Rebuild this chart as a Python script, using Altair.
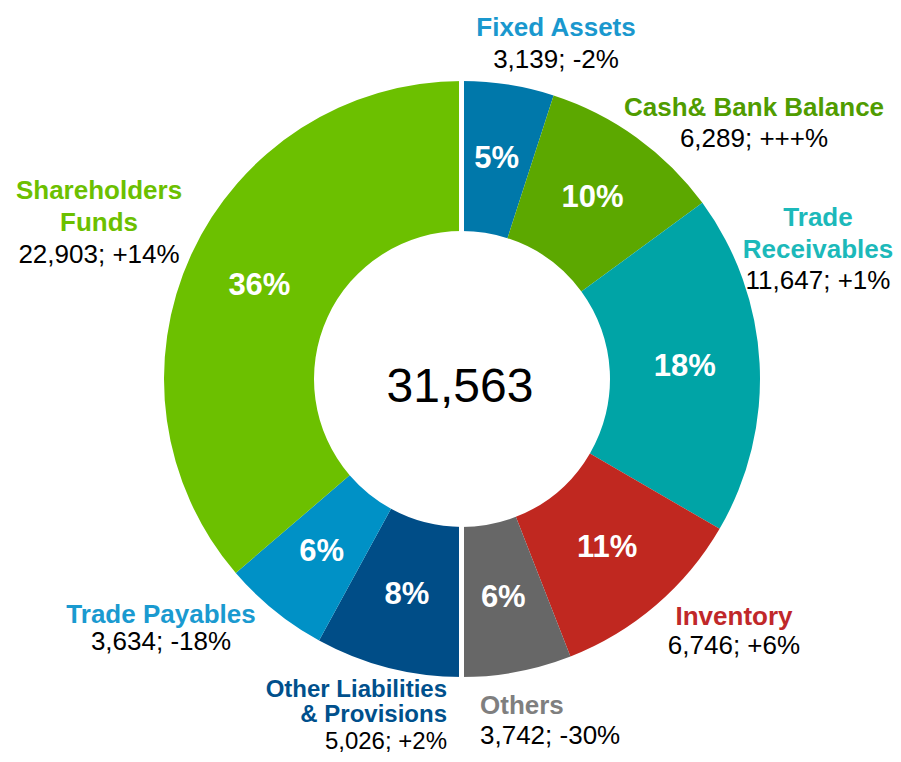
import altair as alt
import pandas as pd

# ---------------- data ----------------
categories = ["Fixed Assets", "Cash& Bank Balance", "Trade Receivables", "Inventory", "Others",
              "Other Liabilities & Provisions", "Trade Payables", "Shareholders Funds"]
name_lines = [["Fixed Assets"], ["Cash& Bank Balance"], ["Trade", "Receivables"], ["Inventory"],
              ["Others"], ["Other Liabilities", "& Provisions"], ["Trade Payables"],
              ["Shareholders", "Funds"]]
values = [3139, 6289, 11647, 6746, 3742, 5026, 3634, 22903]
changes = ["-2%", "+++%", "+1%", "+6%", "-30%", "+2%", "-18%", "+14%"]

# ---------------- style / layout ----------------
FONT = "Liberation Sans, Arial, sans-serif"
slice_colors = ["#0078AA", "#5CA800", "#00A4A6", "#C02820", "#676767", "#004D87", "#0091C6", "#6CC000"]
label_colors = ["#1A98CE", "#509C00", "#1CB9BA", "#C0282A", "#7F7F7F", "#00508C", "#1A9AD0", "#6CC000"]
OFF = 8  # page margin
CX, CY = 462 - OFF, 379 - OFF
R_IN, R_OUT = 148, 298
# label anchor x (page px), baselines of each line (page px), alignment
label_layout = [
    (556, [36, 68], "center"),
    (754, [116, 147], "center"),
    (818, [226, 258, 289], "center"),
    (734, [625, 654], "center"),
    (480, [714, 744], "left"),
    (447, [697, 722, 749], "right"),
    (161, [623, 650], "center"),
    (99, [199, 231, 263], "center"),
]
font_size_by_align = {"center": 26, "left": 26, "right": 24}

total = sum(values)
df = pd.DataFrame({
    "idx": list(range(len(categories))),
    "category": categories,
    "value": values,
    "slice_color": slice_colors,
    "pct": [f"{round(v / total * 100)}%" for v in values],
})

rows = []
for i, (lines, val, ch) in enumerate(zip(name_lines, values, changes)):
    x, baselines, al = label_layout[i]
    texts = lines + [f"{val:,}; {ch}"]
    for j, t in enumerate(texts):
        is_name = j < len(lines)
        rows.append({
            "label": t,
            "px": x - OFF,
            "py": baselines[j] - OFF,
            "tcolor": label_colors[i] if is_name else "#000000",
            "kind": "name" if is_name else "value",
            "anchor": al,
        })
labels = pd.DataFrame(rows)

base = alt.Chart(df).encode(
    theta=alt.Theta("value:Q", stack=True),
    order=alt.Order("idx:Q"),
)
arcs = base.mark_arc(innerRadius=R_IN, outerRadius=R_OUT).encode(
    color=alt.Color("slice_color:N", scale=None),
    x=alt.value(CX), y=alt.value(CY),
)
pcts = base.mark_text(radius=(R_IN + R_OUT) / 2, font=FONT, fontSize=31, fontWeight="bold",
                      color="white", baseline="middle").encode(
    text="pct:N", x=alt.value(CX), y=alt.value(CY),
)
gap = alt.Chart(pd.DataFrame({"g": [0]})).mark_rule(color="white", strokeWidth=5).encode(
    x=alt.value(CX - 0.5), y=alt.value(CY - R_OUT - 4), y2=alt.value(CY + R_OUT + 4),
)
center = alt.Chart(pd.DataFrame({"t": [f"{sum(values[:5]):,}"]})).mark_text(
    font=FONT, fontSize=48, color="#000000", baseline="alphabetic", align="center"
).encode(text="t:N", x=alt.value(CX - 2), y=alt.value(402 - OFF))

label_layers = []
for kind, weight in [("name", "bold"), ("value", "normal")]:
    for al in ["center", "left", "right"]:
        sub = labels[(labels["kind"] == kind) & (labels["anchor"] == al)].reset_index(drop=True)
        if len(sub) == 0:
            continue
        label_layers.append(
            alt.Chart(sub).mark_text(font=FONT, fontSize=font_size_by_align[al], fontWeight=weight,
                                     align=al, baseline="alphabetic").encode(
                x=alt.X("px:Q", scale=None),
                y=alt.Y("py:Q", scale=None),
                text="label:N",
                color=alt.Color("tcolor:N", scale=None),
            )
        )

chart = alt.layer(arcs, gap, pcts, center, *label_layers).properties(
    width=885, height=746, autosize="none", padding=0
).configure_view(stroke=None)

chart.save("out.html", embed_options={"renderer": "svg", "actions": False})
